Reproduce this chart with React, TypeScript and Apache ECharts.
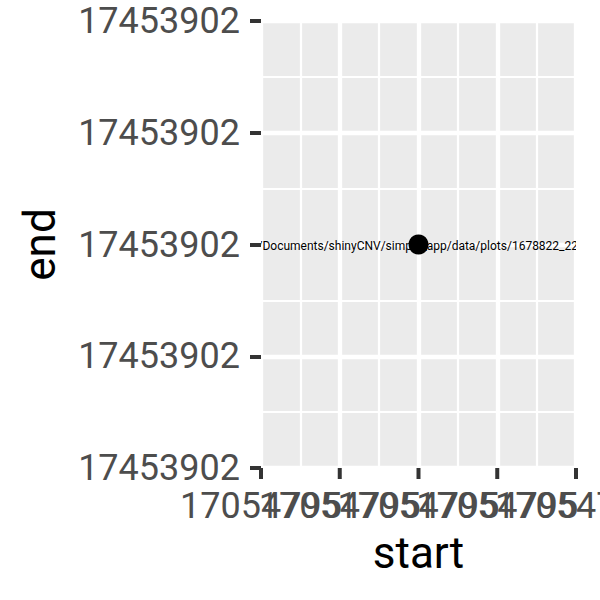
import React, { useEffect, useRef } from "react";
import * as echarts from "echarts";

// ---- data ----
const xValues = [17054795];
const yValues = [17453902];
const pointLabels = ["/home/Documents/shinyCNV/simple_app/data/plots/1678822_22q1.png"];

const xTickValues = [17054794.5, 17054794.75, 17054795, 17054795.25, 17054795.5];
const xTickLabels = ["17054795", "17054795", "17054795", "17054795", "17054795"];
const yTickLabels = ["17453902", "17453902", "17453902", "17453902", "17453902"];

const xAxisMin = 17054794.5;
const xAxisMax = 17054795.5;
const yAxisMin = 17453901.5;
const yAxisMax = 17453902.5;
const tickStep = 0.25;

const xTitle = "start";
const yTitle = "end";

export default function App() {
  const ref = useRef<HTMLDivElement>(null);

  useEffect(() => {
    if (!ref.current) return;
    const chart = echarts.init(ref.current, null, { renderer: "svg" });
    const font = "Roboto";
    const tickLabel = (labels: string[], min: number) => (v: number) =>
      labels[Math.round((v - min) / tickStep)] ?? "";

    chart.setOption({
      animation: false,
      backgroundColor: "#ffffff",
      grid: {
        show: true,
        left: 261,
        right: 24,
        top: 21,
        bottom: 132,
        backgroundColor: "#EBEBEB",
        borderWidth: 0,
        containLabel: false,
        outerBoundsMode: "none",
      },
      xAxis: {
        type: "value",
        min: xAxisMin,
        max: xAxisMax,
        interval: tickStep,
        name: xTitle,
        nameLocation: "middle",
        nameGap: 63,
        nameTextStyle: { fontFamily: font, fontSize: 44, color: "#000000" },
        axisLine: { show: false },
        axisTick: { show: false },
        axisLabel: { show: false },
        splitLine: { show: true, lineStyle: { color: "#FFFFFF", width: 4.3 } },
        minorTick: { show: false, splitNumber: 2 },
        minorSplitLine: { show: true, lineStyle: { color: "#FFFFFF", width: 2.2 } },
      },
      yAxis: {
        type: "value",
        min: yAxisMin,
        max: yAxisMax,
        interval: tickStep,
        name: yTitle,
        nameLocation: "middle",
        nameRotate: 90,
        nameGap: 199,
        nameTextStyle: { fontFamily: font, fontSize: 44, color: "#000000" },
        axisLine: { show: false },
        axisTick: { show: true, interval: 0, length: 11, lineStyle: { color: "#333333", width: 4 } },
        axisLabel: {
          show: true,
          margin: 21,
          fontFamily: font,
          fontSize: 36,
          color: "#4D4D4D",
          showMinLabel: true,
          showMaxLabel: true,
          hideOverlap: false,
          interval: 0,
          formatter: tickLabel(yTickLabels, yAxisMin),
        },
        splitLine: { show: true, lineStyle: { color: "#FFFFFF", width: 4.3 } },
        minorTick: { show: false, splitNumber: 2 },
        minorSplitLine: { show: true, lineStyle: { color: "#FFFFFF", width: 2.2 } },
      },
      series: [
        {
          // x-axis ticks and their (overlapping) labels, placed by the x scale
          type: "custom",
          coordinateSystem: "cartesian2d",
          clip: false,
          silent: true,
          z: 1,
          data: xTickValues.map((v) => [v, yAxisMin]),
          renderItem: (params: any, api: any) => {
            const p = api.coord([api.value(0), api.value(1)]);
            return {
              type: "group",
              children: [
                {
                  type: "line",
                  shape: { x1: p[0], y1: p[1], x2: p[0], y2: p[1] + 11 },
                  style: { stroke: "#333333", lineWidth: 4 },
                },
                {
                  type: "text",
                  x: p[0],
                  y: p[1] + 20,
                  style: {
                    text: xTickLabels[params.dataIndex],
                    align: "center",
                    verticalAlign: "top",
                    fontFamily: font,
                    fontSize: 36,
                    fill: "#4D4D4D",
                  },
                },
              ],
            };
          },
        },
        {
          type: "custom",
          coordinateSystem: "cartesian2d",
          clip: true,
          z: 2,
          data: xValues.map((x, i) => [x, yValues[i]]),
          renderItem: (params: any, api: any) => {
            const p = api.coord([api.value(0), api.value(1)]);
            return {
              type: "text",
              x: p[0],
              y: p[1] + 1,
              style: {
                text: pointLabels[params.dataIndex],
                align: "center",
                verticalAlign: "middle",
                fontFamily: font,
                fontSize: 12,
                fill: "#000000",
              },
            };
          },
        },
        {
          type: "scatter",
          z: 3,
          symbol: "circle",
          symbolSize: 20,
          itemStyle: { color: "#000000", opacity: 1 },
          data: xValues.map((x, i) => [x, yValues[i]]),
        },
      ],
    });

    return () => chart.dispose();
  }, []);

  return (
    <div
      ref={ref}
      style={{ position: "fixed", left: 0, top: 0, width: 600, height: 600, background: "#fff" }}
    />
  );
}
